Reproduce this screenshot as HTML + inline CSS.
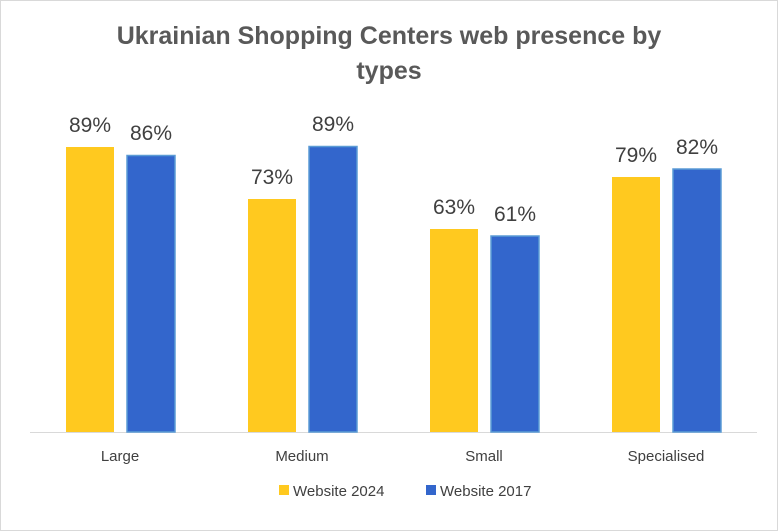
<!DOCTYPE html>
<html><head><style>
body{margin:0;background:#fff}
svg{display:block}
text{font-family:"Liberation Sans",sans-serif;fill:#404040}
</style></head><body>
<svg width="778" height="531" xmlns="http://www.w3.org/2000/svg">
<rect x="0.5" y="0.5" width="777" height="530" fill="#fff" stroke="#d9d9d9"/>
<text x="389" y="44" font-size="25" font-weight="bold" text-anchor="middle" style="fill:#595959">Ukrainian  Shopping Centers web presence by</text>
<text x="389" y="79" font-size="25" font-weight="bold" text-anchor="middle" style="fill:#595959">types</text>
<line x1="30" y1="432.5" x2="757" y2="432.5" stroke="#d9d9d9"/>
<g fill="#FFC91F">
<rect x="66" y="147" width="48" height="285"/>
<rect x="248" y="199" width="48" height="233"/>
<rect x="430" y="229" width="48" height="203"/>
<rect x="612" y="177" width="48" height="255"/>
</g>
<g fill="#3366CC" stroke="#5B9BD5" stroke-width="1.5">
<rect x="127" y="155.5" width="48" height="276.5"/>
<rect x="309" y="146.5" width="48" height="285.5"/>
<rect x="491" y="236" width="48" height="196"/>
<rect x="673" y="169" width="48" height="263"/>
</g>
<g font-size="21" text-anchor="middle">
<text x="90" y="132">89%</text>
<text x="151" y="140">86%</text>
<text x="272" y="184">73%</text>
<text x="333" y="131">89%</text>
<text x="454" y="214">63%</text>
<text x="515" y="221">61%</text>
<text x="636" y="162">79%</text>
<text x="697" y="154">82%</text>
</g>
<g font-size="15" text-anchor="middle">
<text x="120" y="461">Large</text>
<text x="302" y="461">Medium</text>
<text x="484" y="461">Small</text>
<text x="666" y="461">Specialised</text>
</g>
<rect x="279" y="485" width="10" height="10" fill="#FFC91F"/>
<text x="293" y="496" font-size="15">Website 2024</text>
<rect x="426" y="485" width="10" height="10" fill="#3366CC"/>
<text x="440" y="496" font-size="15">Website 2017</text>
</svg>
</body></html>
